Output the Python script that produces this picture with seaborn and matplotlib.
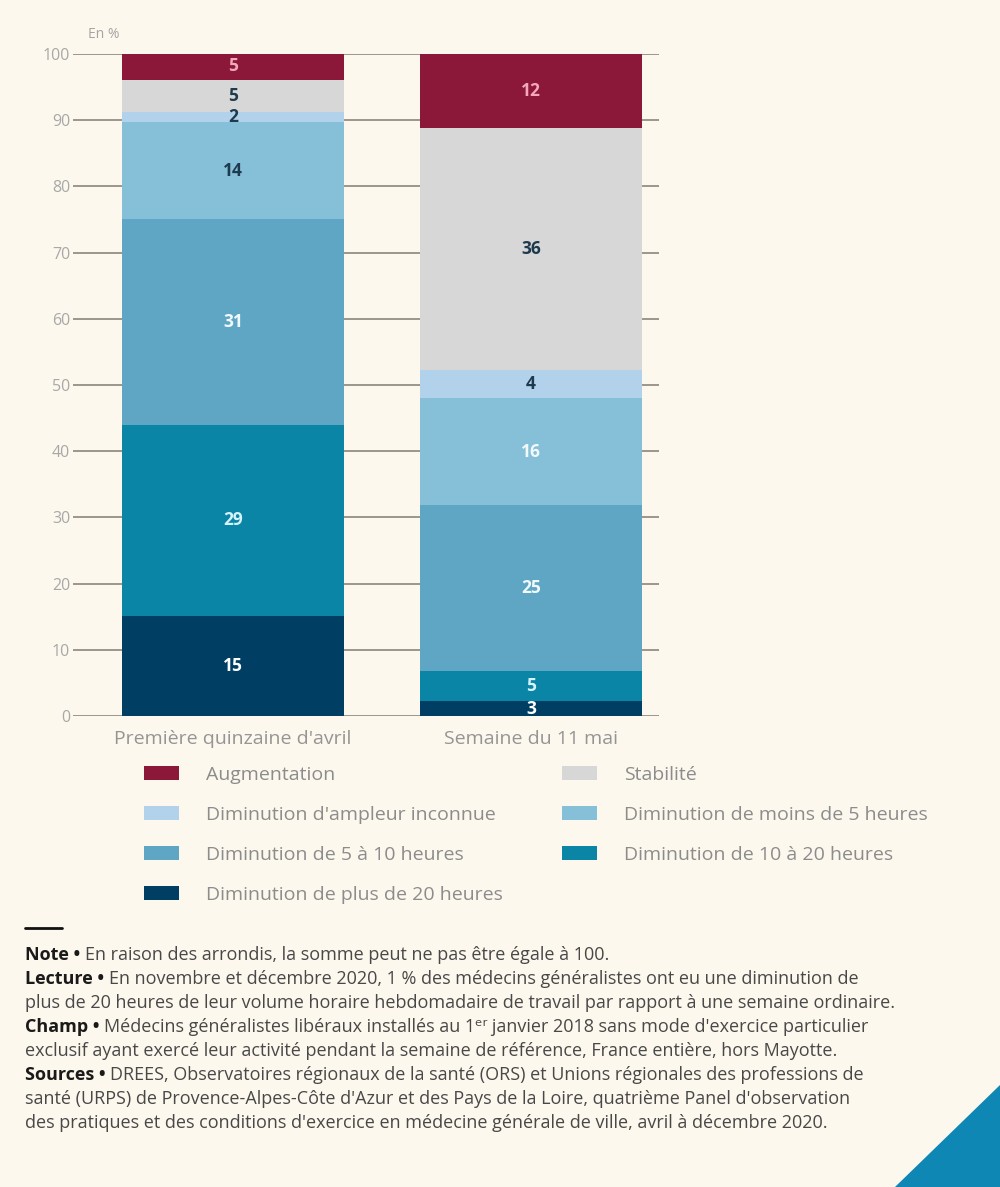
import numpy as np
import pandas as pd
import matplotlib
matplotlib.use("Agg")
import matplotlib.pyplot as plt
import seaborn as sns
from matplotlib.patches import Patch, Polygon
from matplotlib.lines import Line2D

# données (hauteurs estimées, étiquettes arrondies affichées)
periodes = ["Première quinzaine d'avril", "Semaine du 11 mai"]

series = ["Diminution de plus de 20 heures", "Diminution de 10 à 20 heures",
          "Diminution de 5 à 10 heures", "Diminution de moins de 5 heures",
          "Diminution d'ampleur inconnue", "Stabilité", "Augmentation"]

plus_20h = [15.1, 2.2]
de_10_20h = [28.9, 4.6]
de_5_10h = [31.1, 25.0]
moins_5h = [14.6, 16.2]
ampleur_inconnue = [1.6, 4.2]
stabilite = [4.8, 36.6]
augmentation = [4.1, 11.2]

etiq_plus_20h = [15, 3]
etiq_10_20h = [29, 5]
etiq_5_10h = [31, 25]
etiq_moins_5h = [14, 16]
etiq_ampleur = [2, 4]
etiq_stabilite = [5, 36]
etiq_augmentation = [5, 12]

couleurs = ["#003f63", "#0a85a5", "#5fa6c5", "#86bfd8", "#b2d1ea", "#d7d7d7", "#8b1838"]
couleurs_etiq = [["#ffffff", "#ffffff"], ["#d6f2fb", "#d6f2fb"], ["#f2f9fc", "#f2f9fc"],
                 ["#1d3a4e", "#f2f9fc"], ["#1d3a4e", "#1d3a4e"], ["#1d3a4e", "#1d3a4e"],
                 ["#f4a7ba", "#f4a7ba"]]

valeurs = [plus_20h, de_10_20h, de_5_10h, moins_5h, ampleur_inconnue, stabilite, augmentation]
etiquettes = [etiq_plus_20h, etiq_10_20h, etiq_5_10h, etiq_moins_5h, etiq_ampleur,
              etiq_stabilite, etiq_augmentation]

df = pd.DataFrame(np.array(valeurs).T, columns=series)
df.insert(0, "periode", periodes)
cumul = df[series].cumsum(axis=1)

fond = "#fdf8ed"
sns.set_theme(style="white")
plt.rcParams["font.family"] = ["Open Sans", "DejaVu Sans"]

fig = plt.figure(figsize=(10, 11.87), dpi=100, facecolor=fond)
ax = fig.add_axes([0.073, 0.3968, 0.586, 0.5577])
ax.set_facecolor(fond)

# barres empilées : on trace les cumuls du haut vers le bas
for i in range(len(series) - 1, -1, -1):
    sns.barplot(x=df["periode"], y=cumul[series[i]], color=couleurs[i],
                width=0.745, saturation=1, linewidth=0, ax=ax, zorder=2)

for i, s in enumerate(series):
    bas = cumul[s] - df[s]
    for j in range(len(periodes)):
        ax.text(j, bas[j] + df[s][j] / 2, str(etiquettes[i][j]), ha="center", va="center",
                fontsize=12.5, fontweight="bold", color=couleurs_etiq[i][j], zorder=3)

ax.set_xlim(-0.537, 1.43)
ax.set_ylim(0, 100)
ax.set_yticks(range(0, 101, 10))
ax.yaxis.grid(True, color="#9c968c", linewidth=1.4)
ax.set_axisbelow(True)
for sp in ax.spines.values():
    sp.set_visible(False)
ax.set_xlabel("")
ax.set_ylabel("")
ax.tick_params(axis="y", length=0, pad=2, labelsize=11.5, labelcolor="#a8a8a8")
ax.tick_params(axis="x", length=0, pad=10, labelsize=14, labelcolor="#959595")

fig.text(0.088, 1 - 34 / 1187, "En %", fontsize=10, color="#a5a5a5", va="center")

# légende sur deux colonnes (remplie colonne par colonne)
ordre = [6, 4, 2, 0, 5, 3, 1]
poignees = [Patch(facecolor=couleurs[k], edgecolor="none", label=series[k]) for k in ordre]
fig.legend(handles=poignees, loc="upper left", bbox_to_anchor=(0.134, 1 - 756 / 1187),
           ncol=2, frameon=False, fontsize=14, labelcolor="#8c8c8c",
           handlelength=1.8, handleheight=0.72, handletextpad=1.4,
           labelspacing=1.13, columnspacing=3.05, borderpad=0)

# notes de bas de figure
fig.add_artist(Line2D([0.025, 0.062], [1 - 928 / 1187] * 2, color="#111111", linewidth=2))

lignes = [
    ("Note • ", "En raison des arrondis, la somme peut ne pas être égale à 100."),
    ("Lecture • ", "En novembre et décembre 2020, 1 % des médecins généralistes ont eu une diminution de"),
    ("", "plus de 20 heures de leur volume horaire hebdomadaire de travail par rapport à une semaine ordinaire."),
    ("Champ • ", "Médecins généralistes libéraux installés au 1ᵉʳ janvier 2018 sans mode d'exercice particulier"),
    ("", "exclusif ayant exercé leur activité pendant la semaine de référence, France entière, hors Mayotte."),
    ("Sources • ", "DREES, Observatoires régionaux de la santé (ORS) et Unions régionales des professions de"),
    ("", "santé (URPS) de Provence-Alpes-Côte d'Azur et des Pays de la Loire, quatrième Panel d'observation"),
    ("", "des pratiques et des conditions d'exercice en médecine générale de ville, avril à décembre 2020."),
]
for k, (gras, texte) in enumerate(lignes):
    y = 1 - (960 + 24 * k) / 1187
    t = fig.text(0.025, y, gras, fontsize=13, fontweight="bold", color="#1a1a1a", va="baseline")
    ax.annotate(texte, xy=(1, y), xycoords=(t, "figure fraction"), fontsize=13,
                color="#484848", va="baseline", ha="left", annotation_clip=False)

fig.add_artist(Polygon([[1.0, 1 - 1085 / 1187], [1.0, 0.0], [0.895, 0.0]],
                       closed=True, facecolor="#0f87b5", edgecolor="none",
                       transform=fig.transFigure))

fig.savefig("out.png", dpi=100, facecolor=fond)
